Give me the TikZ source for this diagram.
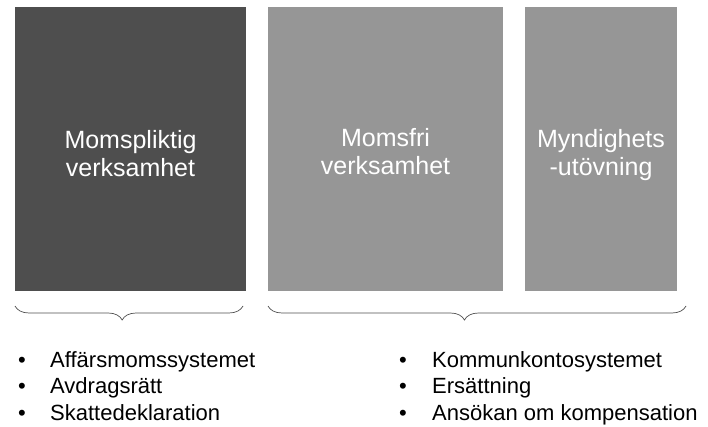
\documentclass[tikz,border=0pt]{standalone}
\usepackage{fontspec}
\setmainfont{Liberation Sans}
\usetikzlibrary{decorations.pathreplacing}
\definecolor{darkbox}{RGB}{78,78,78}
\definecolor{lightbox}{RGB}{150,150,150}
\definecolor{bracecol}{RGB}{80,80,80}
\begin{document}
\begin{tikzpicture}[x=1pt,y=-1pt,
  boxnode/.style={inner sep=0pt, outer sep=0pt, anchor=north west},
  boxlabel/.style={text=white, align=center, inner sep=0pt, font=\fontsize{25}{28}\selectfont},
  item/.style={anchor=base west, inner sep=0pt, font=\fontsize{22}{26}\selectfont},
  bul/.style={anchor=base, inner sep=0pt, font=\fontsize{22}{26}\selectfont},
  bracedeco/.style={decorate, decoration={brace, mirror, amplitude=14pt, aspect=0.47}, draw=bracecol, line width=0.7pt}]
\useasboundingbox (0,0) rectangle (708,427);
\fill[white] (0,0) rectangle (708,427);
% boxes
\node[boxnode, fill=darkbox, minimum width=231pt, minimum height=284pt] (b1) at (15,7) {};
\node[boxnode, fill=lightbox, minimum width=235pt, minimum height=284pt] (b2) at (268,7) {};
\node[boxnode, fill=lightbox, minimum width=152pt, minimum height=284pt] (b3) at (525,7) {};
% labels
\node[boxlabel] (l1) at (130.5,154) {Momspliktig\\verksamhet};
\node[boxlabel] (l2) at (385.5,152) {Momsfri\\verksamhet};
\node[boxlabel] (l3) at (601,155) {Myndighets\\-utövning};
% braces
\coordinate (br1a) at (15,306);
\coordinate (br1b) at (243,306);
\coordinate (br2a) at (268,306);
\coordinate (br2b) at (686,306);
\draw[bracedeco] (br1a) -- (br1b);
\draw[bracedeco] (br2a) -- (br2b);
% left list
\node[bul] (bl1) at (22,367) {•};
\node[bul] (bl2) at (22,393.5) {•};
\node[bul] (bl3) at (22,420) {•};
\node[item] (tl1) at (50,367) {Affärsmomssystemet};
\node[item] (tl2) at (50,393.5) {Avdragsrätt};
\node[item] (tl3) at (50,420) {Skattedeklaration};
% right list
\node[bul] (br1) at (403,367) {•};
\node[bul] (br2) at (403,393.5) {•};
\node[bul] (br3) at (403,420) {•};
\node[item] (tr1) at (432,367) {Kommunkontosystemet};
\node[item] (tr2) at (432,393.5) {Ersättning};
\node[item] (tr3) at (432,420) {Ansökan om kompensation};
\end{tikzpicture}
\end{document}
